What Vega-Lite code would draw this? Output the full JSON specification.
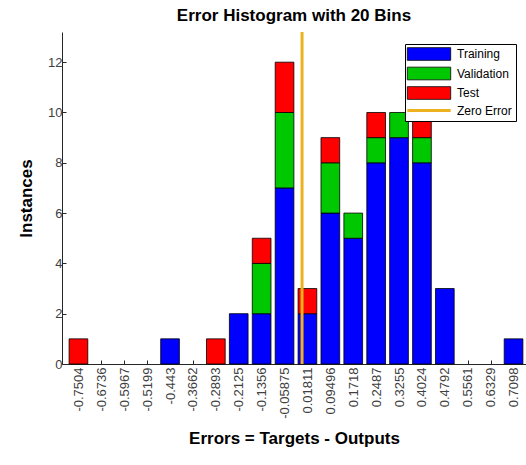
{
  "$schema": "https://vega.github.io/schema/vega-lite/v6.json",
  "width": 464,
  "height": 332,
  "autosize": {"type": "none"},
  "padding": {"left": 62, "top": 32, "right": 0, "bottom": 101},
  "background": "white",
  "title": {"text": "Error Histogram with 20 Bins", "fontSize": 17, "font": "Liberation Sans", "fontWeight": "bold", "color": "black", "offset": 6, "anchor": "middle"},
  "config": {"view": {"stroke": null}, "font": "Liberation Sans"},
  "layer": [
    {
      "data": {"values": [
        {"center": -0.7504, "set": "Test", "k": 3, "n": 1},
        {"center": -0.443, "set": "Training", "k": 1, "n": 1},
        {"center": -0.2893, "set": "Test", "k": 3, "n": 1},
        {"center": -0.2125, "set": "Training", "k": 1, "n": 2},
        {"center": -0.1356, "set": "Training", "k": 1, "n": 2},
        {"center": -0.1356, "set": "Validation", "k": 2, "n": 2},
        {"center": -0.1356, "set": "Test", "k": 3, "n": 1},
        {"center": -0.05875, "set": "Training", "k": 1, "n": 7},
        {"center": -0.05875, "set": "Validation", "k": 2, "n": 3},
        {"center": -0.05875, "set": "Test", "k": 3, "n": 2},
        {"center": 0.01811, "set": "Training", "k": 1, "n": 2},
        {"center": 0.01811, "set": "Test", "k": 3, "n": 1},
        {"center": 0.09496, "set": "Training", "k": 1, "n": 6},
        {"center": 0.09496, "set": "Validation", "k": 2, "n": 2},
        {"center": 0.09496, "set": "Test", "k": 3, "n": 1},
        {"center": 0.1718, "set": "Training", "k": 1, "n": 5},
        {"center": 0.1718, "set": "Validation", "k": 2, "n": 1},
        {"center": 0.2487, "set": "Training", "k": 1, "n": 8},
        {"center": 0.2487, "set": "Validation", "k": 2, "n": 1},
        {"center": 0.2487, "set": "Test", "k": 3, "n": 1},
        {"center": 0.3255, "set": "Training", "k": 1, "n": 9},
        {"center": 0.3255, "set": "Validation", "k": 2, "n": 1},
        {"center": 0.4024, "set": "Training", "k": 1, "n": 8},
        {"center": 0.4024, "set": "Validation", "k": 2, "n": 1},
        {"center": 0.4024, "set": "Test", "k": 3, "n": 1},
        {"center": 0.4792, "set": "Training", "k": 1, "n": 3},
        {"center": 0.7098, "set": "Training", "k": 1, "n": 1}
      ]},
      "mark": {"type": "bar", "width": 18.7, "stroke": "black", "strokeWidth": 0.8, "opacity": 1},
      "encoding": {
        "x": {
          "field": "center", "type": "quantitative",
          "scale": {"domain": [-0.7888, 0.7348], "nice": false, "zero": false},
          "axis": {
            "values": [-0.7504, -0.6736, -0.5967, -0.5199, -0.443, -0.3662, -0.2893, -0.2125, -0.1356, -0.05875, 0.01811, 0.09496, 0.1718, 0.2487, 0.3255, 0.4024, 0.4792, 0.5561, 0.6329, 0.7098],
            "tickCount": 40,
            "format": ".4~r",
            "labelExpr": "replace(datum.label, '\u2212', '-')",
            "labelAngle": -90,
            "labelFontSize": 13,
            "labelFont": "Liberation Sans",
            "labelColor": "#404040",
            "labelPadding": 7,
            "labelOverlap": false,
            "labelFlush": false,
            "tickSize": -4,
            "tickColor": "#262626",
            "domainColor": "#262626",
            "grid": false,
            "title": "Errors = Targets - Outputs",
            "titleFontSize": 17,
            "titleFont": "Liberation Sans",
            "titleFontWeight": "bold",
            "titleColor": "black",
            "titlePadding": 12
          }
        },
        "y": {
          "field": "n", "type": "quantitative", "stack": "zero",
          "scale": {"domain": [0, 13.2], "nice": false},
          "axis": {
            "values": [0, 2, 4, 6, 8, 10, 12],
            "format": "d",
            "labelFontSize": 13,
            "labelFont": "Liberation Sans",
            "labelColor": "#404040",
            "labelPadding": 4,
            "tickSize": -4,
            "tickColor": "#262626",
            "domainColor": "#262626",
            "grid": false,
            "title": "Instances",
            "titleFontSize": 17,
            "titleFont": "Liberation Sans",
            "titleFontWeight": "bold",
            "titleColor": "black",
            "titlePadding": 12
          }
        },
        "order": {"field": "k", "type": "quantitative", "sort": "ascending"},
        "color": {
          "field": "set", "type": "nominal",
          "scale": {"domain": ["Training", "Validation", "Test", "Zero Error"], "range": ["#0000FF", "#00C800", "#FF0000", "#EDB120"]},
          "legend": {
            "title": null,
            "orient": "none",
            "legendX": 343,
            "legendY": 12,
            "fillColor": "white",
            "strokeColor": "black",
            "padding": 4,
            "symbolSize": 161,
            "symbolType": "M-3.42,-1L3.42,-1L3.42,1L-3.42,1Z",
            "symbolOffset": 14,
            "labelOffset": 22,
            "labelFontSize": 12,
            "labelFont": "Liberation Sans",
            "labelColor": "black",
            "rowPadding": 3.5,
            "symbolStrokeColor": "black",
            "symbolStrokeWidth": 0.8,
            "symbolOpacity": 1,
            "encode": {
              "symbols": {
                "update": {
                  "shape": {"signal": "datum.label === 'Zero Error' ? 'M-3.42,0L3.42,0' : 'M-3.42,-1L3.42,-1L3.42,1L-3.42,1Z'"},
                  "stroke": {"signal": "datum.label === 'Zero Error' ? '#EDB120' : 'black'"},
                  "strokeWidth": {"signal": "datum.label === 'Zero Error' ? 3 : 0.8"}
                }
              }
            }
          }
        }
      }
    },
    {
      "data": {"values": [{"zero": 0}]},
      "mark": {"type": "rule", "color": "#EDB120", "strokeWidth": 3},
      "encoding": {"x": {"field": "zero", "type": "quantitative"}}
    }
  ]
}
